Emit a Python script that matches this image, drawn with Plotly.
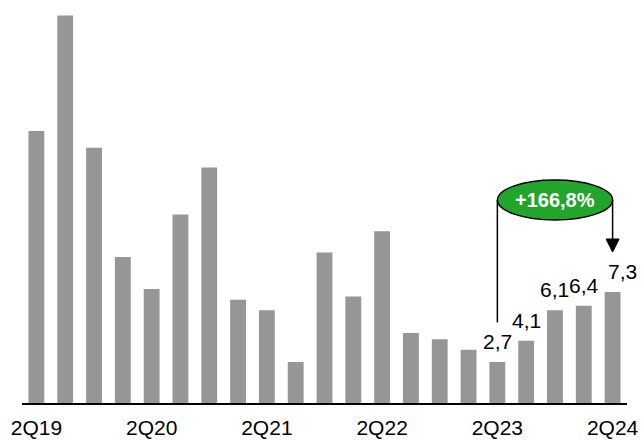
import plotly.graph_objects as go

# Quarterly values, 2Q19 .. 2Q24
quarters = [
    "2Q19", "3Q19", "4Q19", "1Q20", "2Q20", "3Q20", "4Q20",
    "1Q21", "2Q21", "3Q21", "4Q21", "1Q22", "2Q22", "3Q22",
    "4Q22", "1Q23", "2Q23", "3Q23", "4Q23", "1Q24", "2Q24",
]
values = [
    17.9, 25.5, 16.8, 9.6, 7.5, 12.4, 15.5,
    6.8, 6.1, 2.7, 9.9, 7.0, 11.3, 4.6,
    4.2, 3.5, 2.7, 4.1, 6.1, 6.4, 7.3,
]
tick_labels = ["2Q19", "2Q20", "2Q21", "2Q22", "2Q23", "2Q24"]
labelled = ["2Q23", "3Q23", "4Q23", "1Q24", "2Q24"]
growth_text = "+166,8%"

FONT = "Liberation Sans, Arial, sans-serif"
BAR = "#969696"
GREEN = "#22a52c"

fig = go.Figure(
    go.Bar(
        x=quarters,
        y=values,
        width=0.55,
        marker=dict(color=BAR, line=dict(width=0)),
        hoverinfo="skip",
    )
)

# value labels above the most recent bars
annotations = []
for q in labelled:
    v = values[quarters.index(q)]
    last = q == quarters[-1]
    annotations.append(
        dict(
            x=q, y=v, xref="x", yref="y",
            text=f"{v:.1f}".replace(".", ","),
            showarrow=False, yanchor="bottom",
            xshift=10 if last else 0,
            yshift=7,
            font=dict(family=FONT, size=21, color="black"),
        )
    )

# growth bubble between 2Q23 and 2Q24
i0 = quarters.index("2Q23")
i1 = quarters.index("2Q24")
ell_lo, ell_hi = 12.04, 14.67
ell_mid = (ell_lo + ell_hi) / 2
annotations.append(
    dict(
        x=(i0 + i1) / 2, y=ell_mid, xref="x", yref="y",
        text=f"<b>{growth_text}</b>", showarrow=False,
        font=dict(family=FONT, size=20, color="white"),
    )
)

head_tip = values[i1] + 2.63
head_base = head_tip + 0.86
head_half = 0.226

shapes = [
    # left leg from the 2Q23 label up to the bubble
    dict(type="line", xref="x", yref="y", x0=i0, x1=i0,
         y0=values[i0] + 2.6, y1=ell_mid,
         line=dict(color="black", width=1.5)),
    # right leg down towards 2Q24
    dict(type="line", xref="x", yref="y", x0=i1, x1=i1,
         y0=ell_mid, y1=head_base,
         line=dict(color="black", width=1.5)),
    # arrow head
    dict(type="path", xref="x", yref="y",
         path=f"M {i1 - head_half},{head_base} L {i1 + head_half},{head_base} L {i1},{head_tip} Z",
         fillcolor="black", line=dict(color="black", width=1)),
    # bubble
    dict(type="circle", xref="x", yref="y", x0=i0, x1=i1,
         y0=ell_lo, y1=ell_hi, fillcolor=GREEN,
         line=dict(color="black", width=1.5), layer="above"),
]

fig.update_layout(
    width=641, height=440,
    margin=dict(l=22, r=14, t=0, b=37),
    paper_bgcolor="white", plot_bgcolor="white",
    showlegend=False,
    bargap=0.45,
    annotations=annotations,
    shapes=shapes,
    xaxis=dict(
        type="category",
        range=[-0.5, len(quarters) - 0.5],
        tickmode="array", tickvals=tick_labels, ticktext=tick_labels,
        tickfont=dict(family=FONT, size=21, color="black"),
        ticklabelstandoff=5,
        ticks="", showgrid=False, zeroline=False,
        showline=True, linecolor="black", linewidth=2,
        fixedrange=True,
    ),
    yaxis=dict(
        range=[0, 403 / 15.2],
        visible=False, showgrid=False, zeroline=False,
        fixedrange=True,
    ),
)

fig.write_html("out.html")
